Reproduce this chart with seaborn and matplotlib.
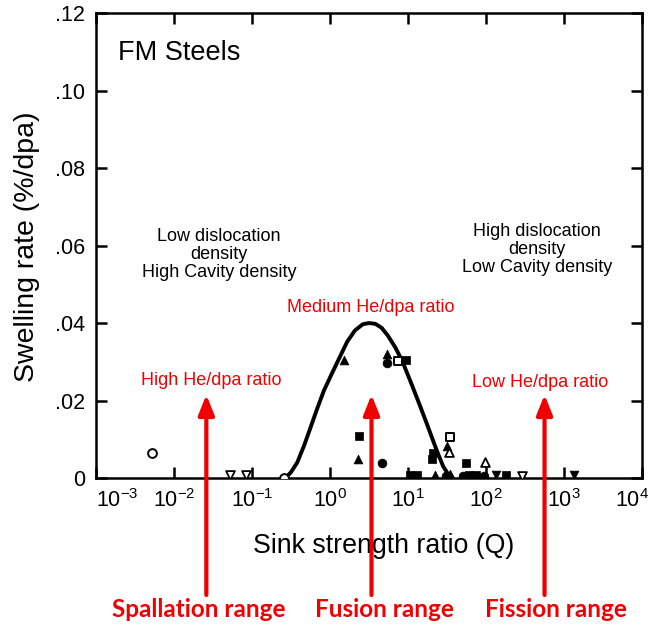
import numpy as np
import seaborn as sns
from matplotlib import pyplot as plt
from matplotlib.ticker import NullLocator
from matplotlib.transforms import ScaledTranslation

# fitted curve (Q, swelling rate)
curve_q = [0.269, 0.316, 0.380, 0.468, 0.562, 0.676, 0.832, 1.047, 1.318, 1.660,
           2.089, 2.630, 3.162, 3.802, 4.571, 5.495, 6.918, 8.511, 10.96, 14.13,
           17.78, 22.91, 28.18, 33.11, 37.15]
curve_rate = [0.0, 0.0015, 0.004, 0.0085, 0.013, 0.0176, 0.0225, 0.0268, 0.031, 0.0352,
              0.0381, 0.0397, 0.040, 0.0398, 0.0388, 0.0368, 0.0336, 0.030, 0.0245, 0.0188,
              0.0135, 0.0075, 0.003, 0.0008, 0.0]

# data points, grouped by marker
open_circle_q = [0.0053, 0.26]
open_circle_y = [0.0065, 0.0]
open_dtri_q = [0.052, 0.083, 290]
open_dtri_y = [0.0008, 0.0008, 0.0006]
filled_dtri_q = [135, 1320]
filled_dtri_y = [0.0007, 0.0007]
filled_tri_q = [1.5, 5.3, 2.27, 31.5, 22, 34]
filled_tri_y = [0.0305, 0.032, 0.0048, 0.0082, 0.0008, 0.001]
open_tri_q = [33, 98]
open_tri_y = [0.0066, 0.0042]
filled_sq_q = [2.33, 9.5, 21, 20, 56, 10.5, 13, 60, 75, 180]
filled_sq_y = [0.0109, 0.0305, 0.0064, 0.0048, 0.004, 0.0008, 0.0008, 0.0008, 0.0008, 0.0007]
open_sq_q = [7.5, 34]
open_sq_y = [0.0303, 0.0107]
filled_circle_q = [5.3, 4.66, 31, 50, 95]
filled_circle_y = [0.0298, 0.0038, 0.0006, 0.0006, 0.0006]

x_ticks = [1e-3, 1e-2, 1e-1, 1e0, 1e1, 1e2, 1e3, 1e4]
y_ticks = [0, 0.02, 0.04, 0.06, 0.08, 0.10, 0.12]
y_ticklabels = ["0", ".02", ".04", ".06", ".08", ".10", ".12"]

# arrows: (x position Q, label)
range_q = [0.026, 3.4, 561]
range_labels = ["Spallation range", "Fusion range", "Fission range"]
range_label_x = [0.307, 0.5926, 0.858]

RED = "#f00000"

sns.set_style("ticks")
plt.rcParams["font.family"] = ["Liberation Sans", "DejaVu Sans"]
plt.rcParams["axes.linewidth"] = 1.8
plt.rcParams["text.color"] = "black"
plt.rcParams["axes.labelcolor"] = "black"
plt.rcParams["xtick.color"] = "black"
plt.rcParams["ytick.color"] = "black"
plt.rcParams["axes.edgecolor"] = "black"

fig, ax = plt.subplots(figsize=(6.48, 6.26), dpi=100)
fig.subplots_adjust(left=0.148, right=0.991, bottom=0.2364, top=0.979)

sns.lineplot(x=curve_q, y=curve_rate, sort=False, color="black", lw=2.8, ax=ax, zorder=3)

ms = 40
sns.scatterplot(x=open_circle_q, y=open_circle_y, marker="o", s=ms, color="black",
                facecolor="white", edgecolor="black", linewidth=1.4, ax=ax, zorder=4)
sns.scatterplot(x=open_dtri_q, y=open_dtri_y, marker="v", s=ms, color="black",
                facecolor="white", edgecolor="black", linewidth=1.3, ax=ax, zorder=4)
sns.scatterplot(x=filled_dtri_q, y=filled_dtri_y, marker="v", s=ms, color="black",
                edgecolor="black", ax=ax, zorder=4)
sns.scatterplot(x=filled_tri_q, y=filled_tri_y, marker="^", s=ms, color="black",
                edgecolor="black", ax=ax, zorder=4)
sns.scatterplot(x=open_tri_q, y=open_tri_y, marker="^", s=ms, color="black",
                facecolor="white", edgecolor="black", linewidth=1.3, ax=ax, zorder=4)
sns.scatterplot(x=filled_sq_q, y=filled_sq_y, marker="s", s=ms, color="black",
                edgecolor="black", ax=ax, zorder=4)
sns.scatterplot(x=open_sq_q, y=open_sq_y, marker="s", s=ms, color="black",
                facecolor="white", edgecolor="black", linewidth=1.4, ax=ax, zorder=4)
sns.scatterplot(x=filled_circle_q, y=filled_circle_y, marker="o", s=ms, color="black",
                edgecolor="black", ax=ax, zorder=4)

ax.set_xscale("log")
ax.set_xlim(1e-3, 1e4)
ax.set_ylim(0, 0.12)
ax.set_xticks(x_ticks)
ax.xaxis.set_minor_locator(NullLocator())
ax.set_yticks(y_ticks)
ax.set_yticklabels(y_ticklabels)
ax.tick_params(which="major", direction="in", length=8, width=1.8,
               top=True, right=True, labelsize=15.5, pad=8)
xt = ax.xaxis.get_major_ticks()
xt[0].label1.set_horizontalalignment("left")
# last label sits at the right edge of the picture, as in the reference
xt[-1].label1.set_horizontalalignment("right")
xt[-1].label1.set_transform(xt[-1].label1.get_transform()
                            + ScaledTranslation(5 / 72, 0, fig.dpi_scale_trans))
for sp in ax.spines.values():
    sp.set_visible(True)
    sp.set_linewidth(1.8)

ax.set_xlabel("Sink strength ratio (Q)", fontsize=19.3)
ax.set_ylabel("Swelling rate (%/dpa)", fontsize=20.5)
ax.xaxis.set_label_coords(0.526, -0.146)
ax.xaxis.label.set_va("center")
ax.yaxis.set_label_coords(-0.126, 0.497)
ax.yaxis.label.set_va("center")

ax.text(0.04, 0.915, "FM Steels", transform=ax.transAxes, fontsize=19.5, va="center")
ax.text(0.038, 0.0577, "Low dislocation\ndensity\nHigh Cavity density", ha="center",
        va="center", fontsize=13, linespacing=1.05)
ax.text(445, 0.059, "High dislocation\ndensity\nLow Cavity density", ha="center",
        va="center", fontsize=13, linespacing=1.05)
ax.text(3.3, 0.044, "Medium He/dpa ratio", color=RED, ha="center", va="center", fontsize=13)
ax.text(0.030, 0.0251, "High He/dpa ratio", color=RED, ha="center", va="center", fontsize=13)
ax.text(486, 0.0246, "Low He/dpa ratio", color=RED, ha="center", va="center", fontsize=13)

for q, lab, lx in zip(range_q, range_labels, range_label_x):
    ax.annotate("", xy=(q, 0.0215), xycoords="data", xytext=(q, 0.0495),
                textcoords=("data", "figure fraction"), annotation_clip=False,
                arrowprops=dict(arrowstyle="-|>,head_length=0.5,head_width=0.2", color=RED,
                                lw=3, mutation_scale=24, shrinkA=0, shrinkB=0),
                zorder=10)
    fig.text(lx, 0.0256, lab, color=RED, ha="center", va="center", fontsize=17.5,
             fontweight="bold", family=["Lato", "DejaVu Sans"])

fig.savefig("out.png", dpi=100)
